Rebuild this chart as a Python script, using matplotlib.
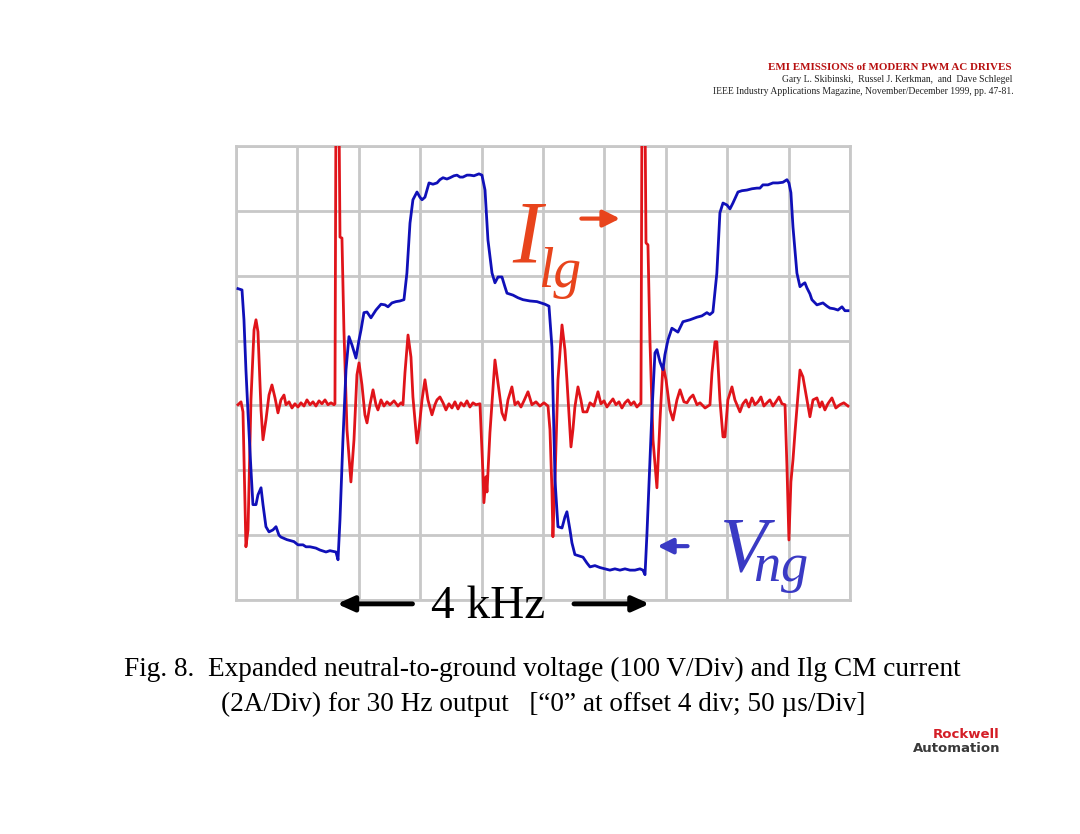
import numpy as np
import matplotlib.pyplot as plt

plt.rcParams["mathtext.fontset"] = "custom"
plt.rcParams["mathtext.it"] = "Liberation Serif:italic"
plt.rcParams["mathtext.rm"] = "Liberation Serif"

# scope trace: time in us (50 us/div)
# Vng in volts (100 V/div), Ilg in amps (2 A/div), both zero on the centre line
t_vng = [1.6, 4.9, 6.5, 8.1, 9.8, 12.2, 13.8, 16.3, 17.9, 20.4, 22.0, 24.4, 26.9, 30.1, 32.6,
         35.0, 36.6, 41.5, 47.2, 50.5, 54.6, 57.0, 60.3, 65.1, 68.4, 73.3, 76.5, 81.4, 83.1, 84.7,
         87.1, 89.6, 92.0, 94.5, 97.7, 100.2, 101.8, 104.2, 106.7, 109.9, 114.0, 118.1, 121.3, 123.8,
         127.0, 130.3, 133.5, 136.8, 139.2, 141.7, 144.1, 147.4, 149.8, 151.5, 153.9, 157.2, 160.4,
         163.7, 166.1, 168.6, 171.8, 174.3, 177.5, 180.0, 182.4, 184.8, 188.1, 190.5, 193.8, 197.9,
         200.3, 202.8, 205.2, 208.5, 210.9, 213.4, 216.6, 219.0, 220.7, 225.6, 229.6, 233.7, 239.4,
         245.1, 251.6, 254.9, 257.3, 259.8, 262.2, 265.5, 267.9, 269.5, 272.0, 273.6, 276.0, 279.3,
         282.6, 285.8, 288.3, 292.3, 296.4, 300.5, 304.5, 308.6, 312.7, 316.8, 320.8, 324.9, 329.0,
         331.4, 333.1, 334.7, 337.1, 338.7, 341.2, 342.8, 345.3, 347.7, 349.3, 351.8, 355.0, 357.5,
         359.9, 364.0, 369.7, 375.4, 379.4, 383.5, 385.9, 388.4, 391.6, 394.1, 396.6, 399.8, 402.3,
         404.7, 408.8, 412.0, 416.1, 420.2, 424.2, 426.7, 429.1, 433.2, 437.3, 441.3, 445.4, 448.7,
         450.3, 451.9, 453.6, 456.8, 459.3, 461.7, 463.3, 465.0, 467.4, 469.0, 473.1, 478.0, 481.3,
         483.7, 487.0, 490.2, 493.5, 495.9, 498.4]
vng = [180, 178, 132, 55, -12, -99, -153, -153, -138, -127, -153, -187, -195, -192, -187,
       -200, -203, -207, -210, -215, -215, -218, -218, -220, -223, -226, -224, -226, -238, -176,
       -53, 55, 106, 93, 73, 101, 116, 143, 144, 135, 147, 156, 155, 152,
       158, 160, 161, 163, 204, 281, 317, 329, 321, 317, 321, 343, 341,
       343, 348, 351, 349, 351, 354, 355, 352, 352, 355, 355, 354, 357,
       355, 332, 255, 204, 189, 198, 198, 183, 173, 170, 166, 163, 161,
       160, 156, 153, 90, -115, -187, -189, -172, -164, -192, -212, -230, -232,
       -234, -243, -249, -247, -250, -252, -254, -252, -254, -252, -254, -254, -252,
       -254, -261, -197, -84, -12, 81, 86, 67, 55, 78, 101, 119, 116,
       113, 129, 132, 136, 138, 143, 140, 144, 204, 297, 312, 309, 303,
       312, 329, 331, 332, 334, 335, 335, 340, 340, 343, 343, 344, 348,
       343, 328, 275, 204, 183, 187, 189, 181, 172, 163, 155, 158, 153,
       150, 149, 147, 152, 146, 146]

t_ilg = [1.6, 4.1, 5.7, 7.3, 8.1, 9.8, 12.2, 14.7, 16.3, 17.9, 20.4, 22.0, 24.4, 26.9, 29.3,
         31.8, 34.2, 36.6, 39.1, 40.7, 43.2, 45.6, 48.0, 50.5, 52.9, 55.4, 57.8, 60.3, 62.7, 65.1,
         67.6, 70.0, 72.5, 74.9, 77.4, 79.8,
         80.6, 81.4, 83.9, 84.7, 86.3, 87.9, 90.4, 93.6, 96.1, 98.5, 100.2, 102.6, 105.0, 106.7,
         109.1, 111.6, 114.0, 115.6, 118.1, 120.5, 123.0, 125.4, 128.7, 131.9, 134.4, 136.0,
         137.6, 140.1, 142.5, 144.1, 147.4, 149.0, 151.5, 153.9, 156.3, 159.6, 162.0, 163.7, 166.1,
         168.6, 171.0, 173.4, 175.9, 178.3, 180.8, 183.2, 185.7, 188.1, 190.5, 193.0, 195.4, 198.7,
         201.1, 201.9, 203.6, 204.4, 206.8, 210.9, 213.4, 216.6, 219.0, 221.5, 224.7, 227.2, 229.6,
         232.1, 234.5, 237.8, 241.0, 244.3, 247.5, 250.8, 254.1,
         255.7, 257.3, 258.1, 259.8, 262.2, 265.5, 267.9, 269.5, 272.8, 274.4, 276.0, 278.5, 280.9,
         282.6, 285.8, 288.3, 291.5, 294.8, 297.2, 299.7, 302.1, 304.5, 307.0, 309.4, 311.9, 314.3,
         316.8, 319.2, 321.6, 324.1, 326.5, 329.0,
         329.8, 330.6, 333.1, 333.9, 335.5, 337.1, 339.6, 342.8, 345.3, 347.7, 350.2, 353.4, 355.9,
         359.1, 361.6, 364.8, 367.3, 369.7, 372.2, 375.4, 377.9, 382.0, 386.0,
         387.6, 390.1, 391.6, 394.1, 396.6, 398.2, 400.6, 403.9, 406.3, 410.4, 412.8, 415.3, 417.7,
         420.2, 422.6, 425.1, 427.5, 429.9, 432.4, 434.8, 437.3, 439.7, 442.2, 444.6, 447.1,
         448.7, 450.3, 451.9, 453.6, 455.2, 459.3, 461.7, 465.0, 467.4, 469.9, 473.1, 475.5, 477.2,
         479.6, 482.0, 485.3, 488.5, 491.8, 495.0, 498.4]
ilg = [0.02, 0.11, -0.20, -2.91, -4.36, -3.84, 0.17, 2.33, 2.64, 2.27, -0.14, -1.06, -0.45, 0.32, 0.63,
       0.23, -0.23, 0.17, 0.32, 0.02, 0.11, -0.08, 0.05, -0.05, 0.08, -0.02, 0.17, 0.02, 0.11, -0.02,
       0.14, 0.05, 0.17, 0.02, 0.08, 0.02,
       0.05, 9.0, 9.0, 5.19, 5.16, 2.33, -0.75, -2.36, -1.06, 0.94, 1.31, 0.63, -0.29, -0.54,
       0.02, 0.48, 0.02, -0.14, 0.17, -0.02, 0.11, 0.02, 0.14, -0.02, 0.08, 0.02,
       1.00, 2.17, 1.49, 0.26, -1.16, -0.75, 0.17, 0.79, 0.17, -0.29, 0.02, 0.17, 0.26,
       0.08, -0.14, 0.05, -0.08, 0.11, -0.11, 0.08, -0.02, 0.14, -0.05, 0.08, 0.02, 0.05,
       -2.08, -3.00, -2.20, -2.67, -0.85, 1.40, 0.69, -0.23, -0.45, 0.17, 0.57, 0.02, 0.11,
       -0.05, 0.14, 0.42, 0.02, 0.11, -0.02, 0.08, -0.02,
       -0.75, -2.60, -4.05, -2.30, 0.79, 2.48, 1.71, 0.79, -1.28, -0.75, -0.05, 0.57, 0.17,
       -0.20, -0.20, 0.08, -0.02, 0.42, 0.05, 0.14, -0.05, 0.08, 0.20, 0.02, 0.11, -0.08,
       0.08, 0.17, 0.02, 0.11, -0.05, 0.05,
       0.05, 9.0, 9.0, 5.01, 4.95, 2.02, -1.06, -2.54, -0.45, 1.25, 0.79, -0.14, -0.45,
       0.17, 0.48, 0.11, 0.08, 0.23, 0.32, 0.02, 0.08, -0.08, 0.02,
       1.00, 1.96, 1.96, 0.17, -0.97, -0.97, 0.17, 0.57, 0.17, -0.20, 0.05, 0.17, -0.05,
       0.23, 0.02, 0.11, 0.26, -0.02, 0.08, 0.17, -0.02, 0.11, 0.26, 0.05, 0.02,
       -1.90, -4.15, -2.36, -1.68, -0.85, 1.09, 0.88, 0.17, -0.35, 0.17, 0.23, -0.05, 0.11,
       -0.14, 0.05, 0.23, -0.08, 0.02, 0.08, -0.02]

v_per_div = 100.0
a_per_div = 2.0

grid_c = "#c8c8c8"
red = "#e0141a"
blue = "#1010b8"
orange = "#e8441c"
label_blue = "#3a3ac4"
serif = "Liberation Serif"

fig = plt.figure(figsize=(10.8, 8.34), dpi=100)
ax = fig.add_axes([0.2185, 0.2806, 0.5685, 0.5444])

ax.set_xlim(0, 500)
ax.set_ylim(-3, 4)
ax.set_xticks(np.arange(0, 501, 50))
ax.set_yticks(np.arange(-3, 5, 1))
ax.grid(True, color=grid_c, linewidth=2)
ax.tick_params(length=0, labelbottom=False, labelleft=False)
for s in ax.spines.values():
    s.set_color(grid_c)
    s.set_linewidth(2)

ax.plot(t_ilg, np.array(ilg) / a_per_div, color=red, lw=2, zorder=3)
ax.plot(t_vng, np.array(vng) / v_per_div, color=blue, lw=2, zorder=4)

# trace labels
ax.text(225, 2.22, "I", color=orange, fontsize=64, family=serif, style="italic",
        ha="left", va="baseline", zorder=5)
ax.text(246, 1.83, "lg", color=orange, fontsize=40, family=serif, style="italic",
        ha="left", va="baseline", zorder=5)
ax.annotate("", xy=(315, 2.88), xytext=(279, 2.88),
            arrowprops=dict(arrowstyle="-|>,head_length=1.0,head_width=0.5",
                            color=orange, lw=3), zorder=5)

ax.text(393, -2.56, r"$V_{\!\!ng}$", color=label_blue, fontsize=56,
        ha="left", va="baseline", zorder=5)
ax.annotate("", xy=(341, -2.17), xytext=(370, -2.17),
            arrowprops=dict(arrowstyle="-|>,head_length=0.9,head_width=0.45",
                            color=label_blue, lw=3), zorder=5)

# period marker under the grid
ax.text(205, -3.1, "4 kHz", fontsize=34, family=serif, ha="center", va="center",
        clip_on=False)
ax.annotate("", xy=(80, -3.06), xytext=(146, -3.06), annotation_clip=False,
            arrowprops=dict(arrowstyle="-|>,head_length=1.0,head_width=0.45",
                            color="black", lw=3.5))
ax.annotate("", xy=(339, -3.06), xytext=(273, -3.06), annotation_clip=False,
            arrowprops=dict(arrowstyle="-|>,head_length=1.0,head_width=0.45",
                            color="black", lw=3.5))

# caption
fig.text(0.502, 1 - 669 / 834, "Fig. 8.  Expanded neutral-to-ground voltage (100 V/Div) and Ilg CM current",
         fontsize=19.6, family=serif, ha="center", va="center")
fig.text(0.503, 1 - 704 / 834, "(2A/Div) for 30 Hz output   [\u201c0\u201d at offset 4 div; 50 \u00b5s/Div]",
         fontsize=19.6, family=serif, ha="center", va="center")

# reference header
fig.text(1012 / 1080, 1 - 68 / 834, "EMI EMISSIONS of MODERN PWM AC DRIVES", color="#b81010",
         fontsize=7.9, family=serif, weight="bold", ha="right", va="center")
fig.text(1012 / 1080, 1 - 80 / 834, "Gary L. Skibinski,  Russel J. Kerkman,  and  Dave Schlegel",
         fontsize=6.9, family=serif, ha="right", va="center", color="#222222")
fig.text(1014 / 1080, 1 - 92 / 834,
         "IEEE Industry Applications Magazine, November/December 1999, pp. 47-81.",
         fontsize=6.9, family=serif, ha="right", va="center", color="#222222")

# logo
fig.text(1000 / 1080, 1 - 734 / 834, "Rockwell", color="#d41e26", fontsize=9.5,
         family="DejaVu Sans", weight="bold", ha="right", va="center")
fig.text(1000 / 1080, 1 - 748 / 834, "Automation", color="#3a3a3a", fontsize=9.5,
         family="DejaVu Sans", weight="bold", ha="right", va="center")

fig.savefig("out.png", dpi=100, facecolor="white")
